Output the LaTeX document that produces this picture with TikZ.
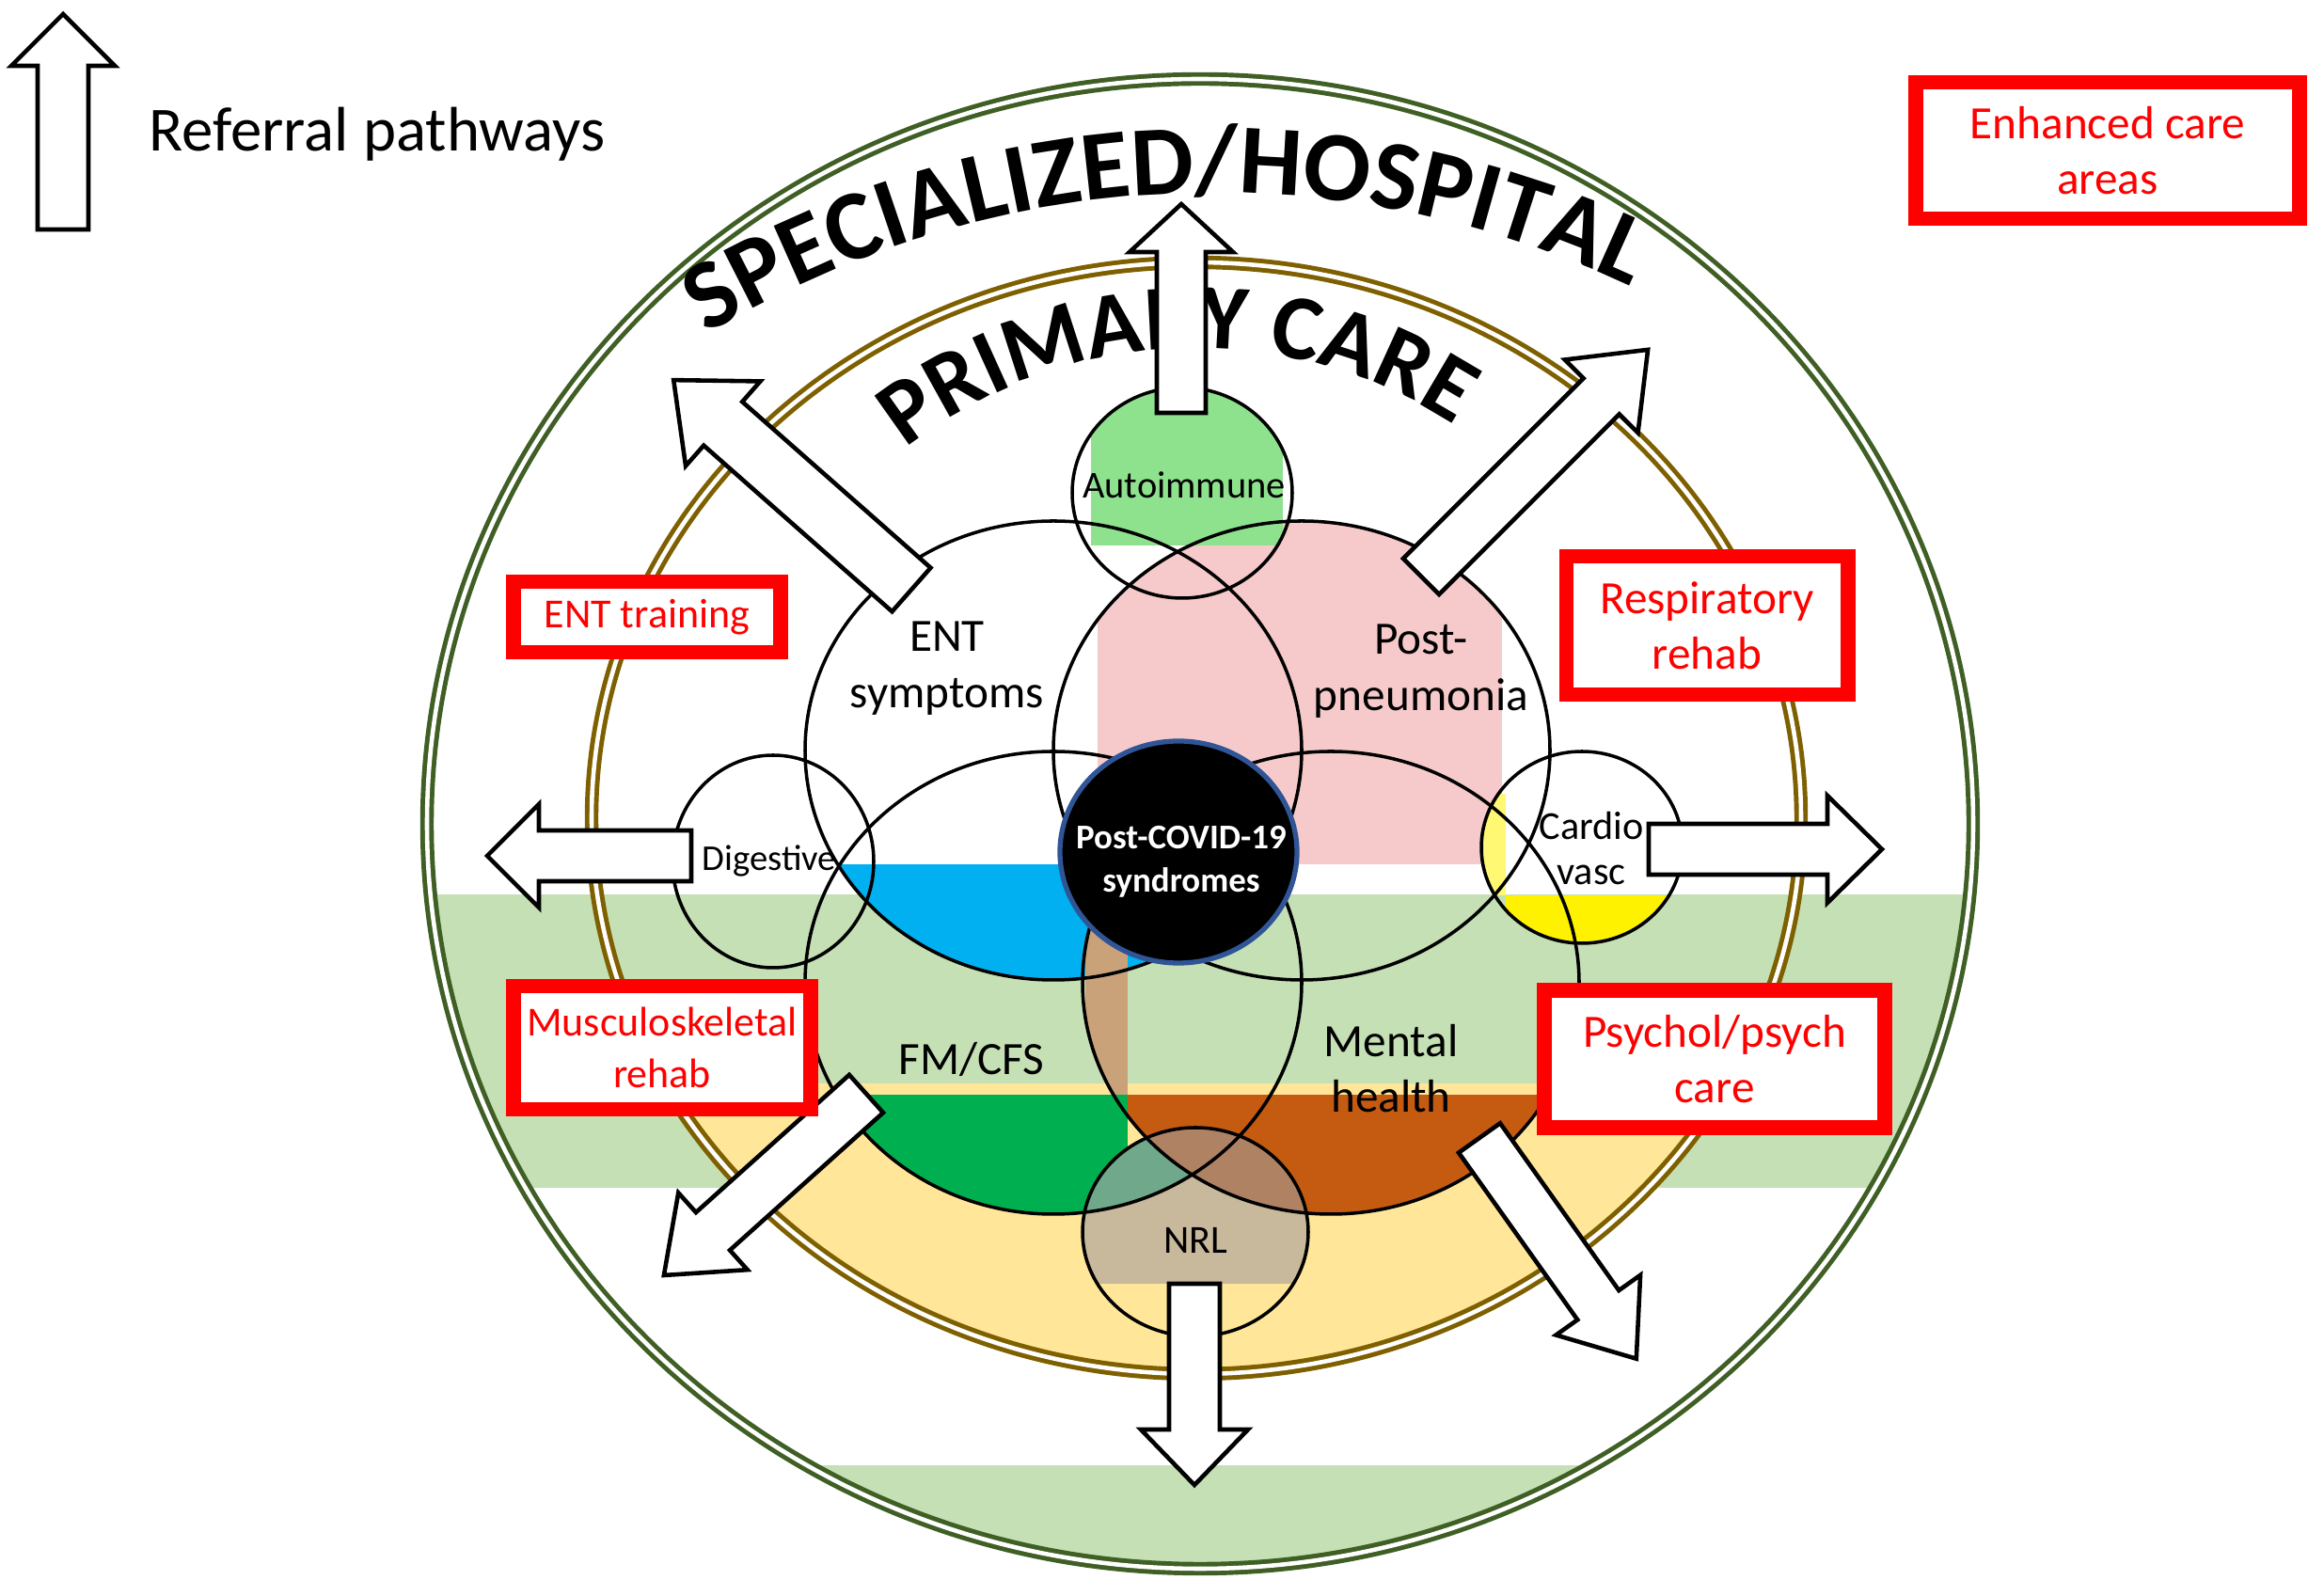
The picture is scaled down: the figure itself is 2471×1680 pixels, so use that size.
\documentclass[tikz,border=0pt]{standalone}
\usepackage{fontspec}
\setmainfont{Carlito}
\usetikzlibrary{decorations.text}
\definecolor{ogreen}{HTML}{3F5F25}
\definecolor{obrown}{HTML}{7F6000}
\definecolor{band}{HTML}{C5E0B4}
\definecolor{yel}{HTML}{FFE699}
\definecolor{cblue}{HTML}{00B0F0}
\definecolor{cdgreen}{HTML}{00B050}
\definecolor{cbrown}{HTML}{C55A11}
\definecolor{cpink}{HTML}{F6CACA}
\definecolor{clgreen}{HTML}{8EE28E}
\definecolor{ctan}{HTML}{C8B89C}
\definecolor{cteal}{HTML}{6FA88A}
\definecolor{cnbrown}{HTML}{B08264}
\definecolor{cstrip}{HTML}{C9A27A}
\definecolor{bblue}{HTML}{2F5597}
\tikzset{
  ell/.style={draw=black, line width=1pt},
  arrowsty/.style={draw=black, fill=white, line width=1.3pt, line join=miter},
  redbox/.style={draw=red, line width=4.5pt, fill=white, text=red, align=center, inner sep=0pt},
  lbl/.style={align=center, inner sep=0pt, font=\fontsize{14}{17}\selectfont},
  pics/barrow/.style args={#1/#2/#3/#4}{code={
    \draw[arrowsty] (0,-#2) -- (#1-#4,-#2) -- (#1-#4,-#3) -- (#1,0) -- (#1-#4,#3) -- (#1-#4,#2) -- (0,#2) -- cycle;
  }}
}
\begin{document}
\begin{tikzpicture}[x=0.01cm,y=-0.01cm]
\fill[white] (0,0) rectangle (2471,1680);
\useasboundingbox (0,0) rectangle (2471,1680);
% bands
\begin{scope}
\clip (1276,876) ellipse [x radius=822, y radius=792];
\fill[band] (0,951) rectangle (2471,1263);
\fill[band] (0,1558) rectangle (2471,1700);
\end{scope}
\begin{scope}
\clip (1272,870) ellipse [x radius=643, y radius=591];
\fill[yel] (0,1152) rectangle (2471,1700);
\end{scope}
% pink
\begin{scope}
\clip (1384,798) ellipse [x radius=264, y radius=244];
\fill[cpink] (1167,0) rectangle (1597,919);
\end{scope}
% autoimmune green
\begin{scope}
\clip (1257,524) ellipse [x radius=117, y radius=112];
\fill[clgreen] (1160,0) rectangle (1364,580);
\end{scope}
% blue
\begin{scope}
\clip (1120,798) ellipse [x radius=264, y radius=244];
\fill[cblue] (0,919) rectangle (1240,1700);
\end{scope}
% dark green
\begin{scope}
\clip (1120,1045) ellipse [x radius=264, y radius=246];
\fill[cdgreen] (0,1164) rectangle (1199,1700);
\end{scope}
% brown
\begin{scope}
\clip (1415,1045) ellipse [x radius=264, y radius=246];
\fill[cbrown] (1199,1164) rectangle (2471,1700);
\fill[cstrip] (1154,900) rectangle (1199,1164);
\end{scope}
% cardio yellow
\begin{scope}
\clip (1682,901) ellipse [x radius=107, y radius=102];
\fill[yellow] (1601,952) rectangle (2471,1700);
\fill[yellow!55] (1578,844) rectangle (1601,952);
\end{scope}
% NRL
\begin{scope}
\clip (1271,1310) ellipse [x radius=120, y radius=111];
\fill[ctan] (0,0) rectangle (2471,1365);
\begin{scope}
\clip (1120,1045) ellipse [x radius=264, y radius=246];
\fill[cteal] (0,0) rectangle (2471,1700);
\end{scope}
\begin{scope}
\clip (1415,1045) ellipse [x radius=264, y radius=246];
\fill[cnbrown] (0,0) rectangle (2471,1700);
\end{scope}
\end{scope}
% ring outlines
\draw[ogreen, line width=1.4pt, double=white, double distance=1.3pt] (1276,876) ellipse [x radius=822, y radius=792];
\draw[obrown, line width=1.4pt, double=white, double distance=1.3pt] (1272,870) ellipse [x radius=643, y radius=591];
% ellipses
\draw[ell] (1120,798) ellipse [x radius=264, y radius=244];
\draw[ell] (1384,798) ellipse [x radius=264, y radius=244];
\draw[ell] (1120,1045) ellipse [x radius=264, y radius=246];
\draw[ell] (1415,1045) ellipse [x radius=264, y radius=246];
\draw[ell] (1257,524) ellipse [x radius=117, y radius=112];
\draw[ell] (822,916) ellipse [x radius=107, y radius=113];
\draw[ell] (1682,901) ellipse [x radius=107, y radius=102];
\draw[ell] (1271,1310) ellipse [x radius=120, y radius=111];
\draw[fill=black, draw=bblue, line width=1.5pt] (1253,906) ellipse [x radius=126, y radius=118];
% curved titles
\path[decorate, decoration={text along path, text align=center,
  text={|\fontsize{30}{30}\selectfont\bfseries|SPECIALIZED/HOSPITAL}}]
  (12.90cm,-12.40cm) ++(123:10.35cm) arc[start angle=123, end angle=63, radius=10.35cm];
\path[decorate, decoration={text along path, text align=center,
  text={|\fontsize{28}{28}\selectfont\bfseries|PRIMARY CARE}}]
  (12.72cm,-8.70cm) ++(130:5.0cm) arc[start angle=130, end angle=55, radius=5.0cm];
% arrows
\pic[rotate=90] at (67,244) {barrow=229/27/55/55};
\pic[rotate=90] at (1256,439) {barrow=222/26/55/51};
\pic[rotate=138.6] at (969,627) {barrow=337/31/60/70};
\pic[rotate=45] at (1511,613) {barrow=341/27/55/70};
\pic[rotate=180] at (735,910) {barrow=217/27/55/55};
\pic[rotate=0] at (1753,903) {barrow=248/27/57/58};
\pic[rotate=221.9] at (921,1163) {barrow=289/27/55/70};
\pic[rotate=305.4] at (1573,1210) {barrow=288/27/55/70};
\pic[rotate=270] at (1270,1365) {barrow=214/27/57/59};
% labels
\node[anchor=base west, inner sep=0pt, font=\fontsize{19}{22}\selectfont] (ref) at (158,161) {Referral pathways};
\node[redbox, minimum width=4.07cm, minimum height=1.45cm, font=\fontsize{14}{16.7}\selectfont] (enh) at (2241,160) {Enhanced care\\areas};
\node[redbox, minimum width=2.99cm, minimum height=1.47cm, font=\fontsize{14}{16.7}\selectfont] (resp) at (1815,665) {Respiratory\\rehab};
\node[redbox, minimum width=2.84cm, minimum height=0.75cm, font=\fontsize{12.5}{15}\selectfont] (entt) at (688,656) {ENT training};
\node[redbox, minimum width=3.16cm, minimum height=1.31cm, font=\fontsize{12.5}{15.5}\selectfont] (musc) at (704,1114) {Musculoskeletal\\rehab};
\node[redbox, minimum width=3.62cm, minimum height=1.46cm, font=\fontsize{14}{16.7}\selectfont] (psy) at (1823,1126) {Psychol/psych\\care};
\node[lbl] (ent) at (1007,711) {ENT\\symptoms};
\node[lbl] (pp) at (1511,714) {Post-\\pneumonia};
\node[lbl] (fm) at (1033,1126) {FM/CFS};
\node[lbl] (mh) at (1479,1136) {Mental\\health};
\node[inner sep=0pt, font=\fontsize{11.5}{13}\selectfont] (auto) at (1259,516) {Autoimmune};
\node[inner sep=0pt, font=\fontsize{11}{13}\selectfont] (dig) at (818,915) {Digestive};
\node[align=center, inner sep=0pt, font=\fontsize{12}{13.6}\selectfont] (cv) at (1692,902) {Cardio\\vasc};
\node[inner sep=0pt, font=\fontsize{12}{14}\selectfont] (nrl) at (1271,1319) {NRL};
\node[align=center, inner sep=0pt, text=white, font=\fontsize{10.5}{13}\selectfont\bfseries] (pc) at (1256,916) {Post-COVID-19\\syndromes};
\end{tikzpicture}
\end{document}
